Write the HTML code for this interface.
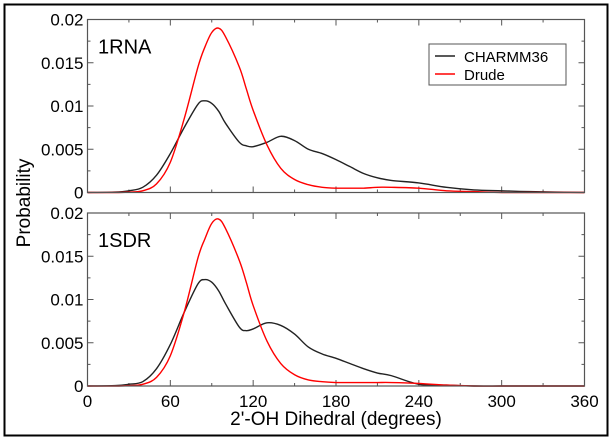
<!DOCTYPE html>
<html><head><meta charset="utf-8"><style>
body{margin:0;background:#fff;width:610px;height:439px;overflow:hidden}
svg text{font-family:"Liberation Sans",sans-serif;fill:#000}
</style></head><body>
<svg id="c" width="610" height="439">
<rect x="4.5" y="4.5" width="603" height="431" fill="none" stroke="#000" stroke-width="2"/>
</svg>
<script>
const xs=[0,20,30,40,50,60,70,80,85,90,95,100,110,115,120,130,140,150,160,170,180,190,200,210,220,240,260,280,300,320,360];
const rnaCharmm=[0,0.00005,0.0002,0.0006,0.002,0.0045,0.0075,0.0102,0.0106,0.0103,0.0094,0.008,0.0058,0.0054,0.0053,0.0058,0.0065,0.006,0.005,0.0045,0.0038,0.003,0.0022,0.0017,0.0014,0.0011,0.0006,0.0003,0.0002,0.0001,0];
const rnaDrude=[0,0,0.00005,0.0002,0.001,0.0035,0.0085,0.0145,0.0168,0.0185,0.019,0.018,0.0145,0.012,0.0095,0.0055,0.0028,0.0015,0.0009,0.0006,0.0005,0.0005,0.0005,0.0006,0.0006,0.0005,0.0002,0.0001,0,0,0];
const sdrCharmm=[0,0.00005,0.0002,0.0005,0.002,0.0048,0.0085,0.0118,0.0123,0.012,0.011,0.0095,0.0068,0.0064,0.0066,0.0073,0.007,0.006,0.0045,0.0037,0.0032,0.0026,0.002,0.0015,0.0012,0.0002,0.0001,0,0,0,0];
const sdrDrude=[0,0,0.00005,0.0002,0.001,0.0035,0.0085,0.0148,0.017,0.0188,0.0193,0.0182,0.0145,0.012,0.0093,0.0052,0.0026,0.0013,0.0007,0.0005,0.0004,0.0004,0.0004,0.0004,0.0004,0.0003,0.0001,0,0,0,0];
const xTicks=[0,60,120,180,240,300,360];
const yTicks=[0,0.005,0.01,0.015,0.02];
const yTickLabels=["0","0.005","0.01","0.015","0.02"];
const NS="http://www.w3.org/2000/svg",svg=document.getElementById('c');
const L=87.5,R=584.5;
const xS=v=>L+v/360*(R-L);
function el(t,a,p){const e=document.createElementNS(NS,t);for(const k in a)e.setAttribute(k,a[k]);(p||svg).appendChild(e);return e;}
function smooth(P){let d='M'+P[0][0]+','+P[0][1];
  for(let i=0;i<P.length-1;i++){const p0=P[Math.max(0,i-1)],p1=P[i],p2=P[i+1],p3=P[Math.min(P.length-1,i+2)];
    const c1=[p1[0]+(p2[0]-p0[0])/6,p1[1]+(p2[1]-p0[1])/6],c2=[p2[0]-(p3[0]-p1[0])/6,p2[1]-(p3[1]-p1[1])/6];
    d+=' C'+c1[0]+','+c1[1]+' '+c2[0]+','+c2[1]+' '+p2[0]+','+p2[1];}
  return d;}
function panel(top,bot,name,label,ch,dr,showX){
  const g=el('g',{});
  
  
  const yS=v=>bot-v/0.02*(bot-top);
  for(let i=0;i<xTicks.length;i++){const x=xS(xTicks[i]);
    el('line',{x1:x,x2:x,y1:bot,y2:bot-6,stroke:'#555'},g);el('line',{x1:x,x2:x,y1:top,y2:top+6,stroke:'#555'},g);
    const m=xS(xTicks[i]+30);if(i<xTicks.length-1){el('line',{x1:m,x2:m,y1:bot,y2:bot-3,stroke:'#555'},g);el('line',{x1:m,x2:m,y1:top,y2:top+3,stroke:'#555'},g);}
    if(showX){const t=el('text',{x:x,y:bot+21,'font-size':17,'text-anchor':'middle'},g);t.textContent=xTicks[i];}
  }
  for(let i=0;i<yTicks.length;i++){const y=yS(yTicks[i]);
    el('line',{x1:L,x2:L+6,y1:y,y2:y,stroke:'#555'},g);el('line',{x1:R,x2:R-6,y1:y,y2:y,stroke:'#555'},g);
    if(i<yTicks.length-1){const m=yS(yTicks[i]+0.0025);el('line',{x1:L,x2:L+3,y1:m,y2:m,stroke:'#555'},g);el('line',{x1:R,x2:R-3,y1:m,y2:m,stroke:'#555'},g);}
    const t=el('text',{x:L-4,y:y+6,'font-size':17,'text-anchor':'end'},g);t.textContent=yTickLabels[i];
    
    
  }
  const mk=(arr,col,n)=>{const p=el('path',{d:smooth(arr.map((v,i)=>[xS(xs[i]),yS(v)])),fill:'none',stroke:col,'stroke-width':1.4,'stroke-linejoin':'round'},g);
    
    };
  mk(ch,'#222',name+'-charmm36-line');mk(dr,'#f00',name+'-drude-line');
  el('rect',{x:L,y:top,width:R-L,height:bot-top,fill:'none',stroke:'#555','stroke-width':1.2},g);
  const t=el('text',{x:98,y:top+34,'font-size':20},g);t.textContent=label;
  
  
}
panel(19.5,192.5,'top','1RNA',rnaCharmm,rnaDrude,false);
panel(213,386,'bottom','1SDR',sdrCharmm,sdrDrude,true);
const lg=el('g',{});


el('rect',{x:429,y:44,width:137,height:41,fill:'#fff',stroke:'#555'},lg);
el('line',{x1:435,x2:455,y1:56,y2:56,stroke:'#222','stroke-width':1.4},lg);
el('line',{x1:435,x2:455,y1:74,y2:74,stroke:'#f00','stroke-width':1.4},lg);
let t=el('text',{x:464,y:62,'font-size':15},lg);t.textContent='CHARMM36';


t=el('text',{x:464,y:80,'font-size':15},lg);t.textContent='Drude';


t=el('text',{x:336,y:425,'font-size':19,'text-anchor':'middle'});t.textContent="2'-OH Dihedral (degrees)";


t=el('text',{x:0,y:0,'font-size':19,'text-anchor':'middle',transform:'translate(30,203) rotate(-90)'});t.textContent='Probability';


</script>
</body></html>
